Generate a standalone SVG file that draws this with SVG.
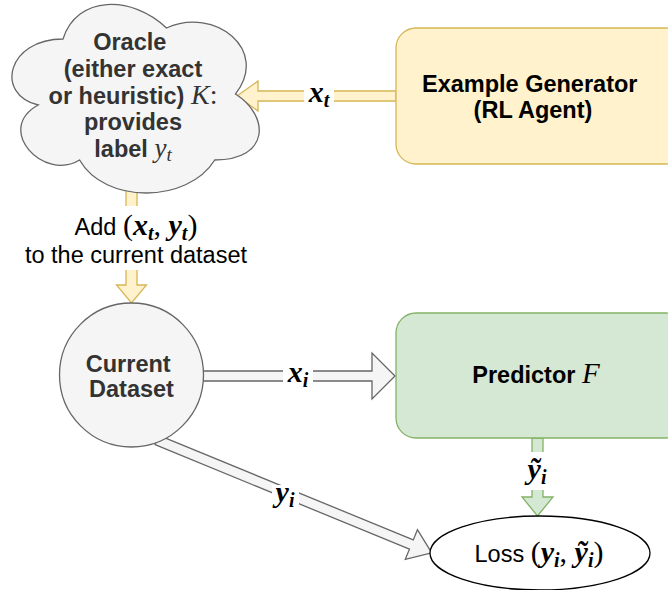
<svg xmlns="http://www.w3.org/2000/svg" width="668" height="590" viewBox="0 0 668 590">
  <style>
    .t { font-family: "Liberation Sans", Arial, Helvetica, sans-serif; font-size: 23.5px; text-anchor: middle; }
    .b { font-weight: bold; }
    .m { font-family: "Liberation Serif", "Times New Roman", serif; font-style: italic; font-weight: normal; }
    .mb { font-family: "Liberation Serif", "Times New Roman", serif; font-style: italic; font-weight: bold; }
    .up { font-family: "Liberation Serif", "Times New Roman", serif; font-style: normal; font-weight: normal; }
    .yel { fill: #fff2cc; stroke: #d6b656; stroke-width: 1.3; }
    .grn { fill: #d5e8d4; stroke: #82b366; stroke-width: 1.3; }
    .gry { fill: #f5f5f5; stroke: #666666; stroke-width: 1.3; }
    .lblbg { fill: #ffffff; stroke: none; }
  </style>

  <rect width="668" height="590" fill="#ffffff"/>

  <!-- connectors -->
  <g id="connectors">
    <!-- generator -> oracle -->
    <polygon class="yel" points="396,91 258,91 258,81 237,96 258,111 258,101 396,101"/>
    <!-- oracle -> dataset -->
    <polygon class="yel" points="126,190 126,285 116.5,285 131.5,303 146.5,285 137,285 137,190"/>
    <!-- dataset -> predictor -->
    <polygon class="gry" points="203,371 372,371 372,353 395,376 372,399 372,381 203,381"/>
    <!-- predictor -> loss -->
    <polygon class="grn" points="532,438 532,497 522,497 537.5,516 553,497 543,497 543,438"/>
    <!-- dataset -> loss (diagonal) -->
    <g transform="translate(157,440) rotate(22.34)">
      <polygon class="gry" points="0,-5 275,-5 275,-16 297,0 275,16 275,5 0,5"/>
    </g>

    <!-- connector labels -->
    <rect class="lblbg" x="304" y="84" width="30" height="26"/>
    <text class="mb" x="319" y="102" font-size="30" text-anchor="middle">x<tspan font-size="20" dy="5">t</tspan></text>

    <rect class="lblbg" x="283" y="366" width="30" height="26"/>
    <text class="mb" x="298" y="382" font-size="30" text-anchor="middle">x<tspan font-size="20" dy="5">i</tspan></text>

    <rect class="lblbg" x="272" y="485" width="27" height="28"/>
    <text class="mb" x="285" y="502" font-size="30" text-anchor="middle">y<tspan font-size="20" dy="5">i</tspan></text>

    <rect class="lblbg" x="521" y="452" width="32" height="38"/>
    <text class="mb" x="537" y="479" font-size="30" text-anchor="middle">ỹ<tspan font-size="20" dy="5">i</tspan></text>

    <rect class="lblbg" x="22" y="206" width="228" height="64"/>
    <text class="t" x="136" y="235">Add <tspan class="up" font-size="30">(</tspan><tspan class="mb" font-size="30">x</tspan><tspan class="mb" font-size="20" dy="5">t</tspan><tspan class="up" font-size="30" dy="-5">, </tspan><tspan class="mb" font-size="30">y</tspan><tspan class="mb" font-size="20" dy="5">t</tspan><tspan class="up" font-size="30" dy="-5">)</tspan></text>
    <text class="t" x="136" y="263">to the current dataset</text>
  </g>

  <!-- oracle cloud -->
  <g id="oracle">
    <path class="gry" d="M63,39 C7.8,39 -6,94 38.2,105 C-6,129.2 43.7,182 79.6,160 C104.4,204 187.2,204 214.8,160 C270,160 270,116 235.5,94 C270,50 214.8,6 166.5,28 C132,-5 76.8,-5 63,39 Z"/>
    <text class="t b" fill="#333333">
      <tspan x="133" y="50">Oracle</tspan>
      <tspan x="133" y="77">(either exact</tspan>
    </text>
    <text class="t b" x="133" y="103.5" fill="#333333">or heuristic) <tspan class="m" font-size="28">K</tspan><tspan class="up" font-size="28">:</tspan></text>
    <text class="t b" x="133" y="130" fill="#333333">provides</text>
    <text class="t b" x="133" y="157" fill="#333333">label <tspan class="m" font-size="27">y</tspan><tspan class="m" font-size="19" dy="4">t</tspan></text>
  </g>

  <!-- example generator -->
  <g id="generator">
    <rect class="yel" x="396" y="28" width="290" height="136" rx="20" ry="20"/>
    <text class="t b" fill="#000000">
      <tspan x="533" y="92">Example Generator</tspan>
      <tspan x="533" y="118">(RL Agent)</tspan>
    </text>
  </g>

  <!-- current dataset -->
  <g id="dataset">
    <circle class="gry" cx="131.5" cy="375" r="72"/>
    <text class="t b" fill="#333333">
      <tspan x="131.5" y="372">Current</tspan>
      <tspan x="131.5" y="397">Dataset</tspan>
    </text>
  </g>

  <!-- predictor -->
  <g id="predictor">
    <rect class="grn" x="396" y="313" width="290" height="125" rx="20" ry="20"/>
    <text class="t b" x="536" y="383" fill="#000000">Predictor <tspan class="m" font-size="29">F</tspan></text>
  </g>

  <!-- loss -->
  <g id="loss">
    <ellipse cx="540" cy="553" rx="110" ry="37" fill="#ffffff" stroke="#000000" stroke-width="1.3"/>
    <text class="t" x="539" y="562" fill="#000000">Loss <tspan class="up" font-size="30">(</tspan><tspan class="mb" font-size="30">y</tspan><tspan class="mb" font-size="20" dy="5">i</tspan><tspan class="up" font-size="30" dy="-5">, </tspan><tspan class="mb" font-size="30">ỹ</tspan><tspan class="mb" font-size="20" dy="5">i</tspan><tspan class="up" font-size="30" dy="-5">)</tspan></text>
  </g>
</svg>
